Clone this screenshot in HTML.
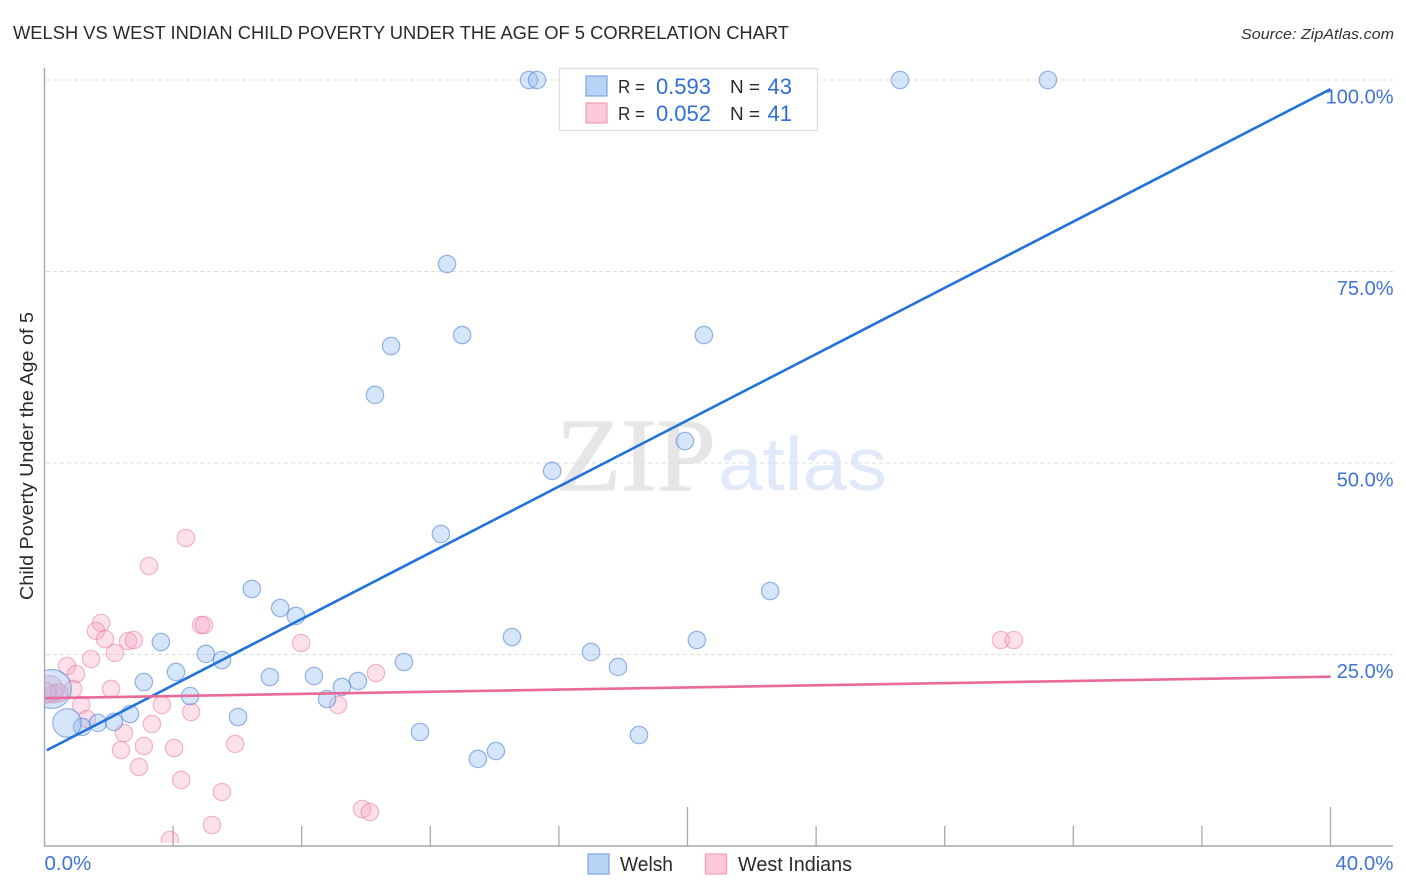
<!DOCTYPE html>
<html lang="en">
<head>
<meta charset="utf-8">
<title>Welsh vs West Indian Child Poverty Under the Age of 5 Correlation Chart</title>
<style>
html,body{margin:0;padding:0;background:#fff;}
svg{display:block;font-family:"Liberation Sans",sans-serif;}
</style>
</head>
<body>
<svg id="chart" xmlns="http://www.w3.org/2000/svg" width="1406" height="892" viewBox="0 0 1406 892">
  <rect x="0" y="0" width="1406" height="892" fill="#ffffff"/>
  <text x="13" y="39" font-size="18.5" fill="#2a2a2a" textLength="776" lengthAdjust="spacingAndGlyphs">WELSH VS WEST INDIAN CHILD POVERTY UNDER THE AGE OF 5 CORRELATION CHART</text>
  <text x="1394" y="39" font-size="15" font-style="italic" fill="#333333" text-anchor="end" textLength="153" lengthAdjust="spacingAndGlyphs">Source: ZipAtlas.com</text>
  <g>
    <text x="556" y="490" font-family="'Liberation Serif',serif" font-size="104" fill="#e6e6e6" stroke="#e6e6e6" stroke-width="1" textLength="160" lengthAdjust="spacingAndGlyphs">ZIP</text>
    <text x="718" y="490" font-size="75" fill="#dfe9f9" textLength="169" lengthAdjust="spacingAndGlyphs">atlas</text>
  </g>
  <g id="grid"></g>
  <g id="axes"></g>
  <svg id="marks" x="45" y="60" width="1348" height="783" viewBox="45 60 1348 783" overflow="hidden"></svg>
  <g id="ylabels"></g>
  <g id="xlabels"></g>
  <text transform="translate(33,456) rotate(-90)" font-size="18.5" fill="#2a2a2a" text-anchor="middle" textLength="288" lengthAdjust="spacingAndGlyphs">Child Poverty Under the Age of 5</text>

  <g>
    <rect x="559.5" y="68.5" width="258" height="62" fill="#ffffff" stroke="#dddddd" stroke-width="1.2"/>
    <rect x="586" y="76" width="21" height="20" fill="#b9d3f7" stroke="#7ba5e0" stroke-width="1.2"/>
    <rect x="586" y="103" width="21" height="20" fill="#fcc9da" stroke="#f09cb8" stroke-width="1.2"/>
    <text x="618" y="93" font-size="18.5" fill="#2a2a2a" textLength="27" lengthAdjust="spacingAndGlyphs">R =</text>
    <text x="711" y="94" font-size="22" fill="#2f6fd6" text-anchor="end">0.593</text>
    <text x="730" y="93" font-size="18.5" fill="#2a2a2a" textLength="30" lengthAdjust="spacingAndGlyphs">N =</text>
    <text x="792" y="94" font-size="22" fill="#2f6fd6" text-anchor="end">43</text>
    <text x="618" y="120" font-size="18.5" fill="#2a2a2a" textLength="27" lengthAdjust="spacingAndGlyphs">R =</text>
    <text x="711" y="121" font-size="22" fill="#2f6fd6" text-anchor="end">0.052</text>
    <text x="730" y="120" font-size="18.5" fill="#2a2a2a" textLength="30" lengthAdjust="spacingAndGlyphs">N =</text>
    <text x="792" y="121" font-size="22" fill="#2f6fd6" text-anchor="end">41</text>
  </g>

  <g>
    <rect x="588" y="854" width="21" height="20" fill="#b9d3f7" stroke="#7ba5e0" stroke-width="1.2"/>
    <text x="620" y="871" font-size="20" fill="#2a2a2a" textLength="53" lengthAdjust="spacingAndGlyphs">Welsh</text>
    <rect x="705.5" y="854" width="21" height="20" fill="#fcc9da" stroke="#f09cb8" stroke-width="1.2"/>
    <text x="738" y="871" font-size="20" fill="#2a2a2a" textLength="114" lengthAdjust="spacingAndGlyphs">West Indians</text>
  </g>
</svg>
<script>
const welshX = [15.07,15.32,26.61,31.21,12.52,10.78,12.99,20.51,10.28,19.92,15.79,12.33,6.45,22.57,7.33,7.82,3.62,14.54,20.29,17.0,5.02,5.52,11.18,17.84,4.09,7.01,8.38,3.09,9.75,9.25,4.53,8.79,2.66,6.02,11.68,18.49,14.04,13.48,1.66,2.16,1.17,0.7,0.23];
const welshY = [100,100,100,100,75.98,65.27,66.7,66.7,58.88,52.87,48.96,40.73,33.55,33.29,31.07,30.03,26.63,27.28,26.89,25.33,25.07,24.28,24.02,23.37,22.72,22.06,22.19,21.41,21.54,20.76,19.58,19.19,17.23,16.84,14.88,14.49,12.4,11.36,16.06,16.19,15.54,16.06,20.5];
const welshWeight = [1,1,1,1,1,1,1,1,1,1,1,1,1,1,1,1,1,1,1,1,1,1,1,1,1,1,1,1,1,1,1,1,1,1,1,1,1,1,1,1,1,2.7,5];
const westIndianX = [1.76,1.6,1.88,2.6,2.78,2.19,1.45,0.7,0.98,4.87,4.96,7.98,2.07,0.89,1.14,3.65,4.56,3.34,1.32,2.47,3.09,2.38,4.03,5.93,2.94,4.25,5.52,5.21,3.9,9.88,10.12,9.13,10.31,4.4,3.25,29.75,30.15,0.17,0.3,0.45,0.05];
const westIndianY = [29.11,28.07,27.02,26.76,26.89,25.2,24.41,23.5,22.45,28.85,28.85,26.5,20.5,20.5,18.41,18.41,17.49,15.93,16.58,14.75,13.05,12.53,12.79,13.32,10.31,8.62,7.05,2.74,0.78,4.83,4.44,18.41,22.58,40.21,36.55,26.89,26.89,20.5,19.84,19.97,19.97];
const westIndianWeight = [1,1,1,1,1,1,1,1,1,1,1,1,1,1,1,1,1,1,1,1,1,1,1,1,1,1,1,1,1,1,1,1,1,1,1,1,1,2.3,1.1,1.1,1.4];
const welshTrendX = [0.07,40];
const welshTrendY = [12.5,98.8];
const westIndianTrendX = [0.02,40];
const westIndianTrendY = [19.3,22.1];
const yTicks = [25,50,75,100];
const yTickLabels = ["25.0%","50.0%","75.0%","100.0%"];
const xTicks = [4,8,12,16,20,24,28,32,36,40];
const xMajorTicks = [20,40];
const xEndTicks = [0,40];
const xEndLabels = ["0.0%","40.0%"];

const NS = "http://www.w3.org/2000/svg";
const xScale = v => 44.5 + v * 32.15;
const yScale = v => 846 - v * 7.66;
const rScale = w => 8.7 * Math.sqrt(w);

function make(parent, tag, attrs) {
  const el = document.createElementNS(NS, tag);
  for (const k in attrs) el.setAttribute(k, attrs[k]);
  parent.appendChild(el);
  return el;
}

const grid = document.getElementById("grid");
yTicks.forEach(t => {
  const el = make(grid, "line", {x1: 46, x2: 1393, y1: yScale(t), y2: yScale(t), stroke: "#dcdcdc", "stroke-width": 1, "stroke-dasharray": "4 3"});
  
  
});

const axes = document.getElementById("axes");
const yAxisLine = make(axes, "line", {x1: 44.5, x2: 44.5, y1: 68, y2: 846.5, stroke: "#a8a8a8", "stroke-width": 1.4});


const xAxisLine = make(axes, "line", {x1: 44, x2: 1393, y1: 846, y2: 846, stroke: "#a8a8a8", "stroke-width": 1.4});


xTicks.forEach(t => {
  const len = xMajorTicks.includes(t) ? 39 : 20;
  const el = make(axes, "line", {x1: xScale(t), x2: xScale(t), y1: 846 - len, y2: 846, stroke: "#a8a8a8", "stroke-width": 1.3});
  
  
});

const marks = document.getElementById("marks");
function drawPoints(xs, ys, ws, fill, stroke) {
  xs.forEach((x, i) => {
    const el = make(marks, "circle", {cx: xScale(x), cy: yScale(ys[i]), r: rScale(ws[i]), fill: fill, stroke: stroke, "stroke-width": 1.2});
    
    
  });
}
drawPoints(westIndianX, westIndianY, westIndianWeight, "rgba(246,160,190,0.33)", "rgba(232,120,160,0.52)");
drawPoints(welshX, welshY, welshWeight, "rgba(150,190,242,0.4)", "rgba(70,125,210,0.56)");

const welshLine = make(marks, "line", {x1: xScale(welshTrendX[0]), y1: yScale(welshTrendY[0]), x2: xScale(welshTrendX[1]), y2: yScale(welshTrendY[1]), stroke: "#2272d9", "stroke-width": 2.6});


const westLine = make(marks, "line", {x1: xScale(westIndianTrendX[0]), y1: yScale(westIndianTrendY[0]), x2: xScale(westIndianTrendX[1]), y2: yScale(westIndianTrendY[1]), stroke: "#e96a9a", "stroke-width": 2.6});



const ylabels = document.getElementById("ylabels");
yTicks.forEach((t, i) => {
  const el = make(ylabels, "text", {x: 1393.5, y: yScale(t) + 23.5, "font-size": 20, fill: "#3f74d6", "text-anchor": "end"});
  
  
  el.textContent = yTickLabels[i];
});

const xlabels = document.getElementById("xlabels");
xEndTicks.forEach((t, i) => {
  const el = make(xlabels, "text", {x: i === 0 ? xScale(t) : 1393.5, y: 870, "font-size": 20.5, fill: "#3f74d6", "text-anchor": i === 0 ? "start" : "end"});
  
  
  el.textContent = xEndLabels[i];
});
</script>
</body>
</html>
